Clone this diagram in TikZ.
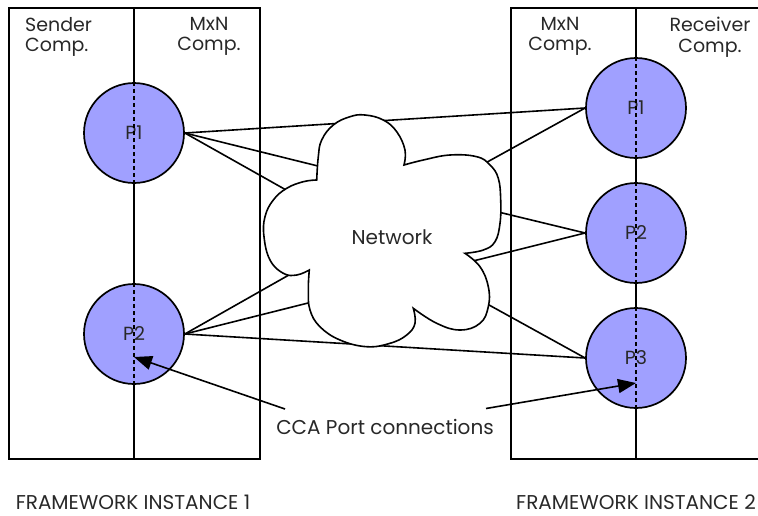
\documentclass[tikz,border=0pt]{standalone}
\usepackage{fontspec}
\setmainfont{Poppins}
\usetikzlibrary{arrows.meta}
\definecolor{portfill}{RGB}{160,160,255}
\definecolor{txt}{RGB}{40,40,40}
\begin{document}
\begin{tikzpicture}[x=1pt,y=-1pt,
  boxline/.style={line width=1.8pt},
  link/.style={line width=1.6pt},
  port/.style={circle,draw,line width=1.7pt,fill=portfill,minimum size=100pt,inner sep=0pt,font=\fontsize{19}{20}\selectfont,text=txt},
  portdash/.style={line width=1.7pt,dash pattern=on 4pt off 3pt},
  lbl/.style={font=\fontsize{20}{22}\selectfont,text=txt,inner sep=0pt,align=center},
  head/.style={lbl,font=\fontsize{19}{20.5}\selectfont,anchor=north},
  ptr/.style={line width=1.6pt,-{Triangle[length=18pt,width=14pt]}}]
\useasboundingbox (0,0) rectangle (758,515);
% frameworks
\draw[boxline] (9,8) rectangle (260,459);
\draw[boxline] (134,8) -- (134,459);
\draw[boxline] (758,8) -- (511,8) -- (511,459) -- (758,459);
\draw[boxline] (636,8) -- (636,459);
% labels
\node[head,anchor=north west,align=left] (sc) at (25,17) {Sender\\Comp.};
\node[head] (mc1) at (209,17) {MxN\\Comp.};
\node[head] (mc2) at (560,17) {MxN\\Comp.};
\node[head] (rc) at (710,17) {Receiver\\Comp.};
\node[lbl,anchor=center] (fw1) at (133,502) {FRAMEWORK INSTANCE 1};
\node[lbl,anchor=center] (fw2) at (636,502) {FRAMEWORK INSTANCE 2};
% ports
\node[port] (L1) at (134,133) {P1};
\node[port] (L2) at (134,334) {P2};
\node[port] (R1) at (636,108) {P1};
\node[port] (R2) at (636,233) {P2};
\node[port] (R3) at (636,358) {P3};
\foreach \p in {L1,L2,R1,R2,R3}{\draw[portdash] (\p.north) -- (\p.south);}
% cloud entry points
\coordinate (c1) at (330,169);
\coordinate (c2) at (295,195);
\coordinate (c3) at (480,166);
\coordinate (c4) at (490,210);
\coordinate (c5) at (465,263);
\coordinate (c6) at (480,300);
\coordinate (c7) at (310,263);
\coordinate (c8) at (320,300);
% links
\draw[link] (L1.east) -- (R1.west);
\draw[link] (L1.east) -- (c1);
\draw[link] (L1.east) -- (c2);
\draw[link] (R1.west) -- (c3);
\draw[link] (R2.west) -- (c4);
\draw[link] (R2.west) -- (c5);
\draw[link] (R3.west) -- (c6);
\draw[link] (L2.east) -- (R3.west);
\draw[link] (L2.east) -- (c7);
\draw[link] (L2.east) -- (c8);
% cloud
\draw[line width=1.6pt,fill=white]
  plot[smooth,tension=0.7] coordinates {(316.7,180) (318.3,156.7) (321.7,140) (333.3,125) (350,116.7) (365,115) (383.3,120) (396.7,131.7) (405,150) (404,165)}
  -- plot[smooth,tension=0.7] coordinates {(404,165) (423.3,160) (450,155) (476.7,156.7) (490,165) (498.3,178.3) (500.7,200) (500,223.3) (495,241.7) (483.3,250) (465,253.3)}
  -- plot[smooth,tension=0.7] coordinates {(465,253.3) (480,266.7) (488.3,286.7) (488.3,306.7) (480,323.3) (460,330) (436.7,323.3) (413.3,308.3)}
  -- plot[smooth,tension=0.7] coordinates {(413.3,308.3) (415,323.3) (406.7,335) (390,343.3) (366.7,346.7) (340,340) (320,326.7) (310,310) (308.3,290) (309.3,270)}
  -- plot[smooth,tension=0.7] coordinates {(309.3,270) (296.7,275) (283.3,273.3) (270,260) (264,236.7) (265,216.7) (273.3,200) (286.7,188.3) (303.3,181.7) (316.7,180)}
  -- cycle;
\node[lbl] (net) at (392,237) {Network};
% CCA port connections
\node[lbl] (cca) at (385,427) {CCA Port connections};
\coordinate (s1) at (285,409);
\coordinate (s2) at (486,408.5);
\coordinate (t1) at (134,357);
\coordinate (t2) at (636,383);
\draw[ptr] (s1) -- (t1);
\draw[ptr] (s2) -- (t2);
\end{tikzpicture}
\end{document}
